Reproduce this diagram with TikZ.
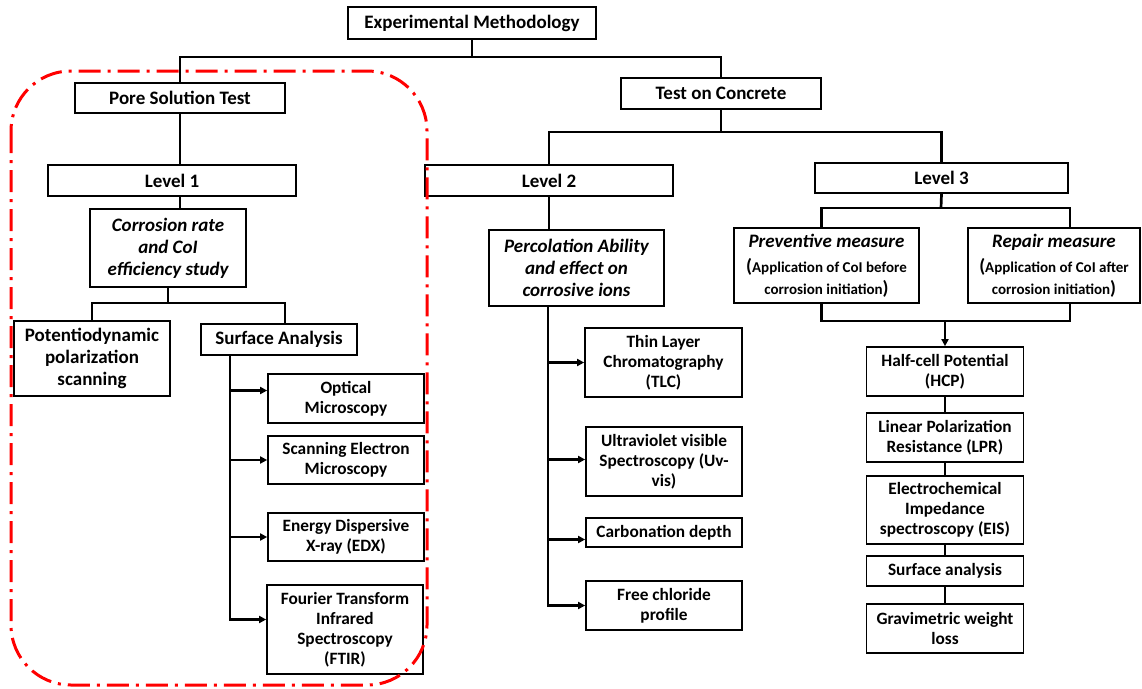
\documentclass[tikz,border=0pt]{standalone}
\usepackage{fontspec}
\setmainfont{Carlito}
\usetikzlibrary{arrows.meta}

\tikzset{
	box/.style 2 args={draw, line width=1.7pt, fill=white, align=center, inner sep=1pt,
		minimum width=#1, minimum height=#2, font=\fontsize{19}{22}\selectfont\bfseries},
	leaf/.style 2 args={box={#1}{#2}, font=\fontsize{17.3}{20}\selectfont\bfseries},
	link/.style={line width=2.7pt},
	arr/.style={line width=2.7pt, -{Triangle[length=7pt,width=7pt]}},
}
\newcommand{\subtxt}{\fontsize{15}{19}\selectfont}
\newcommand{\bigpar}[1]{{\fontsize{19}{18}\selectfont #1}}

\begin{document}
\begin{tikzpicture}[x=1pt, y=-1pt]
		\useasboundingbox (0,0) rectangle (1142,688);
		
		% top levels
		\node[box={248}{32}] (expm) at (472,23) {Experimental Methodology};
		\node[box={210}{30}] (pore) at (180,98) {Pore Solution Test};
		\node[box={200}{31}] (toc) at (721,93.5) {Test on Concrete};
		\node[box={248}{31}] (lvl1) at (172,180.5) {Level 1};
		\node[box={248}{31}] (lvl2) at (549,180.5) {Level 2};
		\node[box={253}{30}] (lvl3) at (941.5,178) {Level 3};
		
		% level 1
		\node[box={156}{78}] (corr) at (168,248) {\itshape Corrosion rate\\ \itshape and CoI\\ \itshape efficiency study};
		\node[box={156}{75}] (pdp) at (92,358.5) {Potentiodynamic\\polarization\\scanning};
		\node[box={156}{31}] (sa) at (279,339.5) {Surface Analysis};
		\node[leaf={156}{49}] (om) at (346,398.5) {Optical\\Microscopy};
		\node[leaf={156}{48}] (sem) at (346,460) {Scanning Electron\\Microscopy};
		\node[leaf={156}{48}] (edx) at (346,537) {Energy Dispersive\\X-ray (EDX)};
		\node[leaf={156}{89}] (ftir) at (345,629.5) {Fourier Transform\\Infrared\\Spectroscopy\\(FTIR)};
		
		% level 2
		\node[box={175}{76}] (perc) at (576.5,268) {\itshape Percolation Ability\\ \itshape and effect on\\ \itshape corrosive ions};
		\node[leaf={157}{69}] (tlc) at (663.5,362.5) {Thin Layer\\Chromatography\\(TLC)};
		\node[leaf={156}{69}] (uv) at (664,461.5) {Ultraviolet visible\\Spectroscopy (Uv-\\vis)};
		\node[leaf={156}{29}] (carb) at (664,532.5) {Carbonation depth};
		\node[leaf={156}{49}] (fcl) at (664,605.5) {Free chloride\\profile};
		
		% level 3
		\node[box={185}{75}] (prev) at (826.5,265.5) {\itshape Preventive measure\\[3pt]
			\subtxt\bigpar{(}Application of CoI before\\ \subtxt corrosion initiation\bigpar{)}};
		\node[box={172}{75}] (rep) at (1054,265.5) {\itshape Repair measure\\[3pt]
			\subtxt\bigpar{(}Application of CoI after\\ \subtxt corrosion initiation\bigpar{)}};
		\node[leaf={157}{49}] (hcp) at (945,371.5) {Half-cell Potential\\(HCP)};
		\node[leaf={157}{49}] (lpr) at (945,437.5) {Linear Polarization\\Resistance (LPR)};
		\node[leaf={157}{68}] (eis) at (945,510) {Electrochemical\\Impedance\\spectroscopy (EIS)};
		\node[leaf={157}{30}] (sfa) at (945,571) {Surface analysis};
		\node[leaf={157}{49}] (grav) at (945,628.5) {Gravimetric weight\\loss};
		
		% junctions
		\coordinate (m0) at (472,57);
		\coordinate (m1) at (721,132);
		\coordinate (m2) at (941,208);
		\coordinate (m3) at (945,321);
		\coordinate (m4) at (168,303);
		
		\draw[link] (expm.south) -- (m0);
		\draw[link] (pore.north) |- (m0) -| (toc.north);
		\draw[link] (toc.south) -- (m1);
		\draw[link] (lvl2.north) |- (m1) -| (lvl3.north);
		\draw[link] (pore.south) -- (pore.south |- lvl1.north);
		\draw[link] (lvl1.south -| pore.south) -- (corr.north -| pore.south);
		\draw[link] (corr.south) -- (m4);
		\draw[link] (pdp.north) |- (m4) -| ([xshift=6]sa.north);
		\draw[link] (lvl2.south) -- (lvl2.south |- perc.north);
		\draw[link] (lvl3.south) -- (m2);
		\draw[link] ([xshift=-5]prev.north) |- (m2) -| ([xshift=16]rep.north);
		\draw[link] ([xshift=-5]prev.south) |- (m3) -| ([xshift=16]rep.south);
		\draw[arr] (m3) -- (hcp.north);
		\foreach \a/\b in {hcp/lpr, lpr/eis, eis/sfa, sfa/grav}
			\draw[link] (\a.south) -- (\b.north);
		
		% leaf arrows
		\foreach \n/\s in {om/8, sem/0, edx/0, ftir/10}
			\draw[arr] ([xshift=-49]sa.south) |- ([yshift=\s]\n.west);
		\foreach \n/\s in {tlc/0, uv/2, carb/-7, fcl/0}
			\draw[arr] ([xshift=-28.5]perc.south) |- ([yshift=\s]\n.west);
		
		% pore solution group
		\draw[red, line width=3pt, rounded corners=60pt,
			dash pattern=on 22pt off 7pt on 3pt off 7pt] (11,71) rectangle (427,685);
	\end{tikzpicture}
\end{document}
